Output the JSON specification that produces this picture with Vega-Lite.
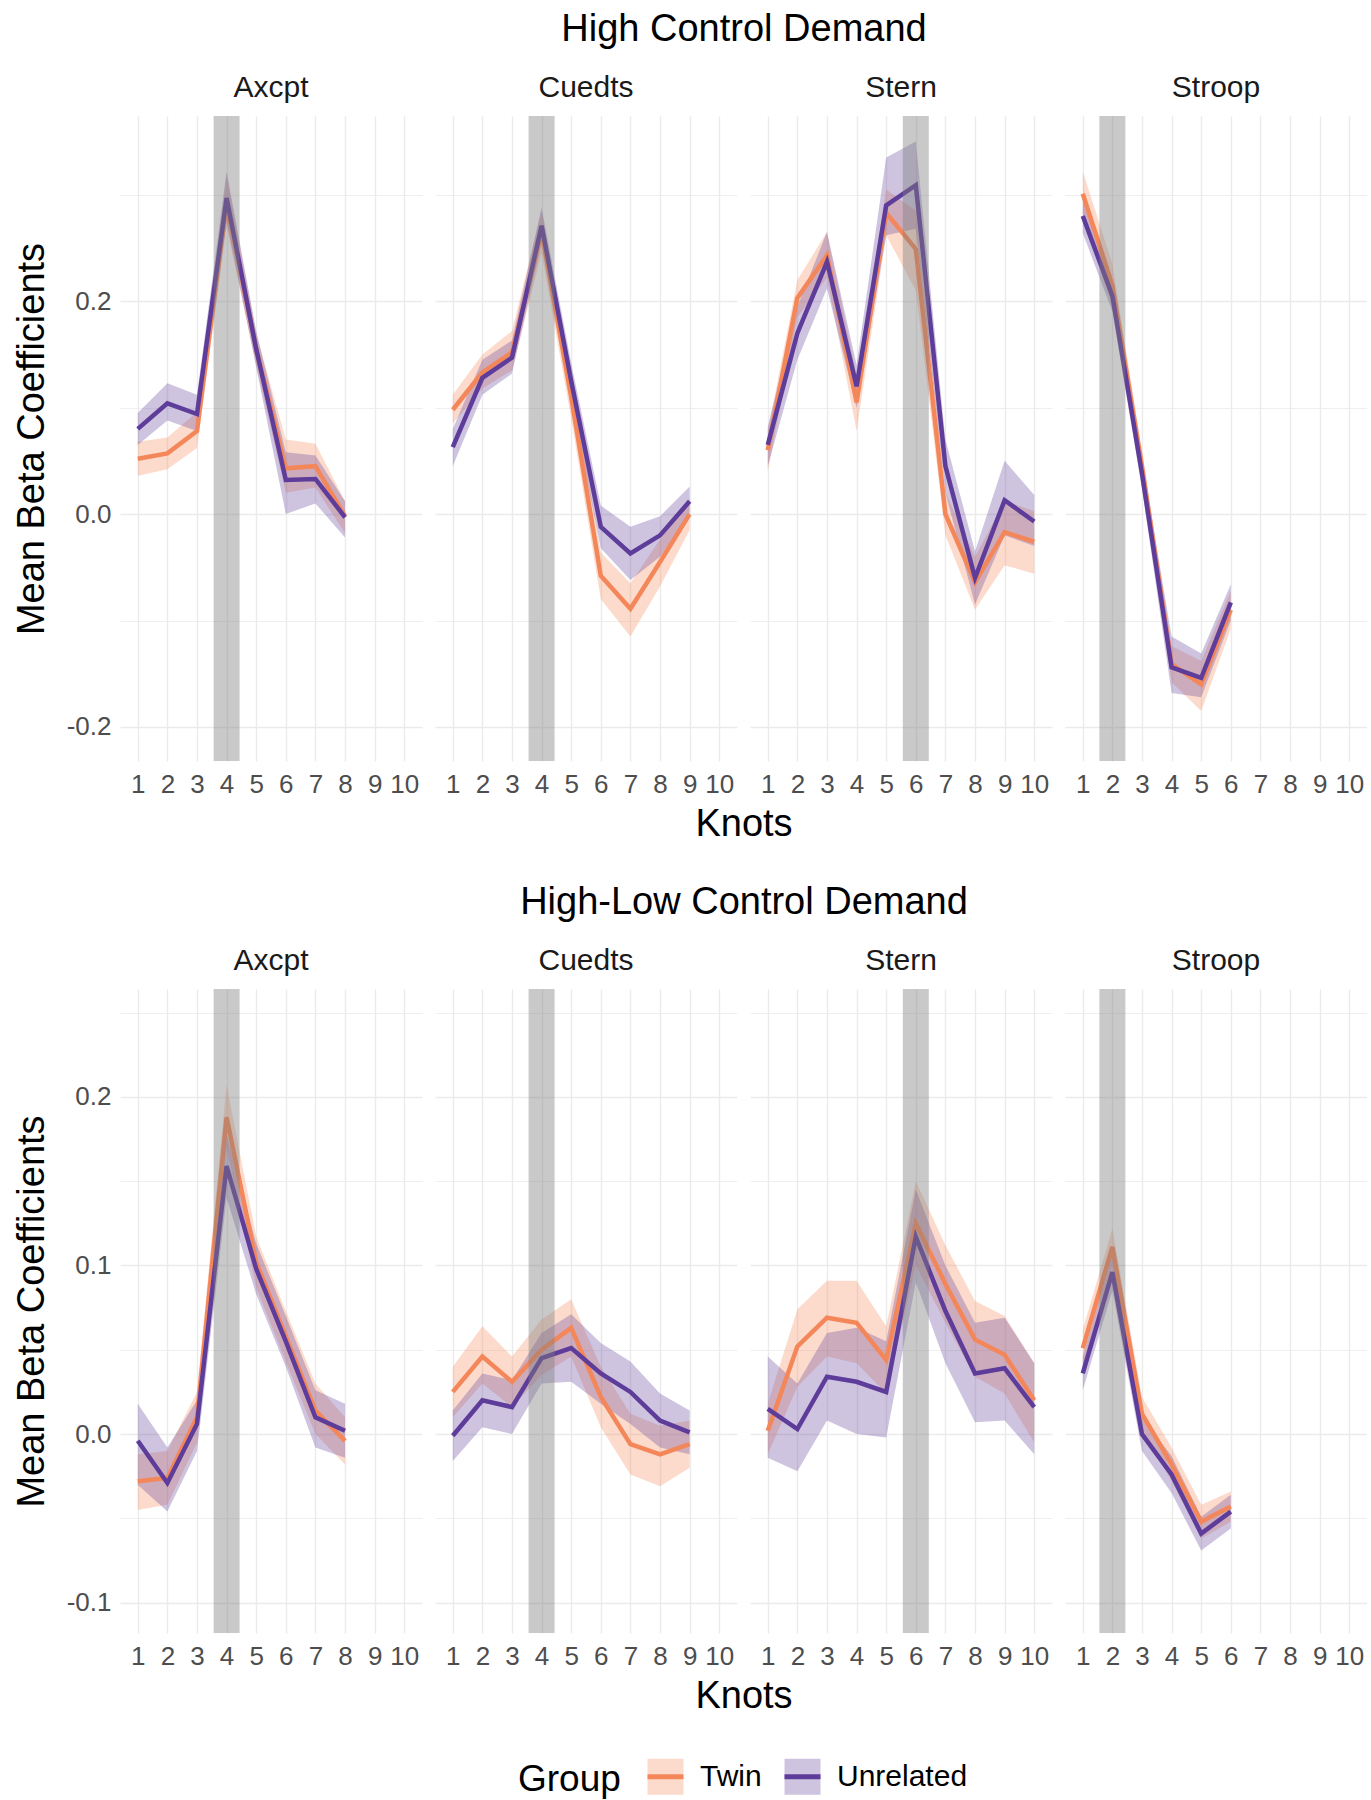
{
  "$schema": "https://vega.github.io/schema/vega-lite/v6.json",
  "autosize": {"type": "pad"},
  "padding": {"left": 13, "top": 11, "right": 0, "bottom": 0},
  "background": "white",
  "config": {
    "font": "Liberation Sans",
    "view": {"stroke": null},
    "axis": {"domain": false, "ticks": false, "labelFontSize": 26, "labelColor": "#4d4d4d", "titleFontSize": 38, "titleFontWeight": "normal", "titleColor": "#000000", "gridColor": "#ebebeb"},
    "header": {"labelFontSize": 30, "labelColor": "#1a1a1a", "titleFontSize": 38, "titleFontWeight": "normal", "titleColor": "#000000"},
    "legend": {"orient": "none", "legendX": 398, "legendY": 1640, "direction": "horizontal", "titleOrient": "left", "titleFontSize": 37, "titleFontWeight": "normal", "titleColor": "#000000", "labelFontSize": 30, "labelColor": "#000000", "titlePadding": 24, "labelOffset": 14, "columnPadding": 12, "symbolType": "M-1,0H1V1H-1V-1H1V0Z", "symbolSize": 1296, "symbolStrokeWidth": 5, "symbolDash": [36, 2000]},
    "concat": {"spacing": 40}
  },
  "datasets": {
    "rows": [
      {"section": "High Control Demand", "task": "Axcpt", "group": "Twin", "knot": 1, "mean": 0.052, "lo": 0.036, "hi": 0.068},
      {"section": "High Control Demand", "task": "Axcpt", "group": "Twin", "knot": 2, "mean": 0.057, "lo": 0.042, "hi": 0.072},
      {"section": "High Control Demand", "task": "Axcpt", "group": "Twin", "knot": 3, "mean": 0.078, "lo": 0.062, "hi": 0.096},
      {"section": "High Control Demand", "task": "Axcpt", "group": "Twin", "knot": 4, "mean": 0.292, "lo": 0.27, "hi": 0.318},
      {"section": "High Control Demand", "task": "Axcpt", "group": "Twin", "knot": 5, "mean": 0.155, "lo": 0.14, "hi": 0.17},
      {"section": "High Control Demand", "task": "Axcpt", "group": "Twin", "knot": 6, "mean": 0.043, "lo": 0.02, "hi": 0.07},
      {"section": "High Control Demand", "task": "Axcpt", "group": "Twin", "knot": 7, "mean": 0.045, "lo": 0.025, "hi": 0.066},
      {"section": "High Control Demand", "task": "Axcpt", "group": "Twin", "knot": 8, "mean": -0.002, "lo": -0.018, "hi": 0.012},
      {"section": "High Control Demand", "task": "Axcpt", "group": "Unrelated", "knot": 1, "mean": 0.08, "lo": 0.065, "hi": 0.095},
      {"section": "High Control Demand", "task": "Axcpt", "group": "Unrelated", "knot": 2, "mean": 0.104, "lo": 0.088, "hi": 0.123},
      {"section": "High Control Demand", "task": "Axcpt", "group": "Unrelated", "knot": 3, "mean": 0.094, "lo": 0.078, "hi": 0.112},
      {"section": "High Control Demand", "task": "Axcpt", "group": "Unrelated", "knot": 4, "mean": 0.297, "lo": 0.275, "hi": 0.322},
      {"section": "High Control Demand", "task": "Axcpt", "group": "Unrelated", "knot": 5, "mean": 0.155, "lo": 0.138, "hi": 0.172},
      {"section": "High Control Demand", "task": "Axcpt", "group": "Unrelated", "knot": 6, "mean": 0.032, "lo": 0.0, "hi": 0.058},
      {"section": "High Control Demand", "task": "Axcpt", "group": "Unrelated", "knot": 7, "mean": 0.033, "lo": 0.01, "hi": 0.055},
      {"section": "High Control Demand", "task": "Axcpt", "group": "Unrelated", "knot": 8, "mean": -0.003, "lo": -0.022, "hi": 0.012},

      {"section": "High Control Demand", "task": "Cuedts", "group": "Twin", "knot": 1, "mean": 0.098, "lo": 0.085, "hi": 0.112},
      {"section": "High Control Demand", "task": "Cuedts", "group": "Twin", "knot": 2, "mean": 0.133, "lo": 0.118, "hi": 0.15},
      {"section": "High Control Demand", "task": "Cuedts", "group": "Twin", "knot": 3, "mean": 0.152, "lo": 0.135, "hi": 0.172},
      {"section": "High Control Demand", "task": "Cuedts", "group": "Twin", "knot": 4, "mean": 0.265, "lo": 0.245, "hi": 0.285},
      {"section": "High Control Demand", "task": "Cuedts", "group": "Twin", "knot": 5, "mean": 0.11, "lo": 0.09, "hi": 0.13},
      {"section": "High Control Demand", "task": "Cuedts", "group": "Twin", "knot": 6, "mean": -0.058, "lo": -0.08, "hi": -0.036},
      {"section": "High Control Demand", "task": "Cuedts", "group": "Twin", "knot": 7, "mean": -0.089, "lo": -0.115, "hi": -0.065},
      {"section": "High Control Demand", "task": "Cuedts", "group": "Twin", "knot": 8, "mean": -0.045, "lo": -0.068, "hi": -0.024},
      {"section": "High Control Demand", "task": "Cuedts", "group": "Twin", "knot": 9, "mean": 0.0, "lo": -0.015, "hi": 0.015},
      {"section": "High Control Demand", "task": "Cuedts", "group": "Unrelated", "knot": 1, "mean": 0.063, "lo": 0.045, "hi": 0.08},
      {"section": "High Control Demand", "task": "Cuedts", "group": "Unrelated", "knot": 2, "mean": 0.128, "lo": 0.112, "hi": 0.145},
      {"section": "High Control Demand", "task": "Cuedts", "group": "Unrelated", "knot": 3, "mean": 0.147, "lo": 0.132, "hi": 0.163},
      {"section": "High Control Demand", "task": "Cuedts", "group": "Unrelated", "knot": 4, "mean": 0.271, "lo": 0.255, "hi": 0.288},
      {"section": "High Control Demand", "task": "Cuedts", "group": "Unrelated", "knot": 5, "mean": 0.125, "lo": 0.105, "hi": 0.142},
      {"section": "High Control Demand", "task": "Cuedts", "group": "Unrelated", "knot": 6, "mean": -0.012, "lo": -0.032, "hi": 0.008},
      {"section": "High Control Demand", "task": "Cuedts", "group": "Unrelated", "knot": 7, "mean": -0.037, "lo": -0.062, "hi": -0.012},
      {"section": "High Control Demand", "task": "Cuedts", "group": "Unrelated", "knot": 8, "mean": -0.02, "lo": -0.04, "hi": -0.002},
      {"section": "High Control Demand", "task": "Cuedts", "group": "Unrelated", "knot": 9, "mean": 0.012, "lo": -0.002, "hi": 0.026},

      {"section": "High Control Demand", "task": "Stern", "group": "Twin", "knot": 1, "mean": 0.06, "lo": 0.04, "hi": 0.078},
      {"section": "High Control Demand", "task": "Stern", "group": "Twin", "knot": 2, "mean": 0.203, "lo": 0.185, "hi": 0.22},
      {"section": "High Control Demand", "task": "Stern", "group": "Twin", "knot": 3, "mean": 0.243, "lo": 0.222, "hi": 0.265},
      {"section": "High Control Demand", "task": "Stern", "group": "Twin", "knot": 4, "mean": 0.105, "lo": 0.078, "hi": 0.13},
      {"section": "High Control Demand", "task": "Stern", "group": "Twin", "knot": 5, "mean": 0.283, "lo": 0.262, "hi": 0.305},
      {"section": "High Control Demand", "task": "Stern", "group": "Twin", "knot": 6, "mean": 0.249, "lo": 0.21, "hi": 0.285},
      {"section": "High Control Demand", "task": "Stern", "group": "Twin", "knot": 7, "mean": 0.0, "lo": -0.02, "hi": 0.02},
      {"section": "High Control Demand", "task": "Stern", "group": "Twin", "knot": 8, "mean": -0.064, "lo": -0.09, "hi": -0.04},
      {"section": "High Control Demand", "task": "Stern", "group": "Twin", "knot": 9, "mean": -0.017, "lo": -0.048, "hi": 0.012},
      {"section": "High Control Demand", "task": "Stern", "group": "Twin", "knot": 10, "mean": -0.026, "lo": -0.056, "hi": 0.003},
      {"section": "High Control Demand", "task": "Stern", "group": "Unrelated", "knot": 1, "mean": 0.065, "lo": 0.045, "hi": 0.082},
      {"section": "High Control Demand", "task": "Stern", "group": "Unrelated", "knot": 2, "mean": 0.17, "lo": 0.145, "hi": 0.195},
      {"section": "High Control Demand", "task": "Stern", "group": "Unrelated", "knot": 3, "mean": 0.237, "lo": 0.212, "hi": 0.265},
      {"section": "High Control Demand", "task": "Stern", "group": "Unrelated", "knot": 4, "mean": 0.12, "lo": 0.1, "hi": 0.14},
      {"section": "High Control Demand", "task": "Stern", "group": "Unrelated", "knot": 5, "mean": 0.29, "lo": 0.262, "hi": 0.335},
      {"section": "High Control Demand", "task": "Stern", "group": "Unrelated", "knot": 6, "mean": 0.309, "lo": 0.268, "hi": 0.35},
      {"section": "High Control Demand", "task": "Stern", "group": "Unrelated", "knot": 7, "mean": 0.045, "lo": 0.02, "hi": 0.07},
      {"section": "High Control Demand", "task": "Stern", "group": "Unrelated", "knot": 8, "mean": -0.06, "lo": -0.085, "hi": -0.035},
      {"section": "High Control Demand", "task": "Stern", "group": "Unrelated", "knot": 9, "mean": 0.013, "lo": -0.02, "hi": 0.05},
      {"section": "High Control Demand", "task": "Stern", "group": "Unrelated", "knot": 10, "mean": -0.007, "lo": -0.03, "hi": 0.018},

      {"section": "High Control Demand", "task": "Stroop", "group": "Twin", "knot": 1, "mean": 0.301, "lo": 0.28, "hi": 0.322},
      {"section": "High Control Demand", "task": "Stroop", "group": "Twin", "knot": 2, "mean": 0.215, "lo": 0.195, "hi": 0.235},
      {"section": "High Control Demand", "task": "Stroop", "group": "Twin", "knot": 3, "mean": 0.045, "lo": 0.03, "hi": 0.06},
      {"section": "High Control Demand", "task": "Stroop", "group": "Twin", "knot": 4, "mean": -0.141, "lo": -0.158, "hi": -0.124},
      {"section": "High Control Demand", "task": "Stroop", "group": "Twin", "knot": 5, "mean": -0.16, "lo": -0.185, "hi": -0.138},
      {"section": "High Control Demand", "task": "Stroop", "group": "Twin", "knot": 6, "mean": -0.09, "lo": -0.108, "hi": -0.072},
      {"section": "High Control Demand", "task": "Stroop", "group": "Unrelated", "knot": 1, "mean": 0.28, "lo": 0.264, "hi": 0.296},
      {"section": "High Control Demand", "task": "Stroop", "group": "Unrelated", "knot": 2, "mean": 0.205, "lo": 0.19, "hi": 0.22},
      {"section": "High Control Demand", "task": "Stroop", "group": "Unrelated", "knot": 3, "mean": 0.038, "lo": 0.024, "hi": 0.052},
      {"section": "High Control Demand", "task": "Stroop", "group": "Unrelated", "knot": 4, "mean": -0.144, "lo": -0.168, "hi": -0.115},
      {"section": "High Control Demand", "task": "Stroop", "group": "Unrelated", "knot": 5, "mean": -0.154, "lo": -0.172, "hi": -0.131},
      {"section": "High Control Demand", "task": "Stroop", "group": "Unrelated", "knot": 6, "mean": -0.083, "lo": -0.1, "hi": -0.066},

      {"section": "High-Low Control Demand", "task": "Axcpt", "group": "Twin", "knot": 1, "mean": -0.028, "lo": -0.045, "hi": -0.012},
      {"section": "High-Low Control Demand", "task": "Axcpt", "group": "Twin", "knot": 2, "mean": -0.026, "lo": -0.042, "hi": -0.01},
      {"section": "High-Low Control Demand", "task": "Axcpt", "group": "Twin", "knot": 3, "mean": 0.01, "lo": -0.005, "hi": 0.025},
      {"section": "High-Low Control Demand", "task": "Axcpt", "group": "Twin", "knot": 4, "mean": 0.188, "lo": 0.17, "hi": 0.207},
      {"section": "High-Low Control Demand", "task": "Axcpt", "group": "Twin", "knot": 5, "mean": 0.102, "lo": 0.087, "hi": 0.117},
      {"section": "High-Low Control Demand", "task": "Axcpt", "group": "Twin", "knot": 6, "mean": 0.058, "lo": 0.043, "hi": 0.073},
      {"section": "High-Low Control Demand", "task": "Axcpt", "group": "Twin", "knot": 7, "mean": 0.014, "lo": 0.0, "hi": 0.03},
      {"section": "High-Low Control Demand", "task": "Axcpt", "group": "Twin", "knot": 8, "mean": -0.004, "lo": -0.018, "hi": 0.01},
      {"section": "High-Low Control Demand", "task": "Axcpt", "group": "Unrelated", "knot": 1, "mean": -0.004, "lo": -0.03, "hi": 0.018},
      {"section": "High-Low Control Demand", "task": "Axcpt", "group": "Unrelated", "knot": 2, "mean": -0.029, "lo": -0.046, "hi": -0.008},
      {"section": "High-Low Control Demand", "task": "Axcpt", "group": "Unrelated", "knot": 3, "mean": 0.006, "lo": -0.01, "hi": 0.02},
      {"section": "High-Low Control Demand", "task": "Axcpt", "group": "Unrelated", "knot": 4, "mean": 0.159, "lo": 0.14, "hi": 0.178},
      {"section": "High-Low Control Demand", "task": "Axcpt", "group": "Unrelated", "knot": 5, "mean": 0.098, "lo": 0.083, "hi": 0.113},
      {"section": "High-Low Control Demand", "task": "Axcpt", "group": "Unrelated", "knot": 6, "mean": 0.055, "lo": 0.04, "hi": 0.07},
      {"section": "High-Low Control Demand", "task": "Axcpt", "group": "Unrelated", "knot": 7, "mean": 0.01, "lo": -0.008, "hi": 0.026},
      {"section": "High-Low Control Demand", "task": "Axcpt", "group": "Unrelated", "knot": 8, "mean": 0.002, "lo": -0.014, "hi": 0.018},

      {"section": "High-Low Control Demand", "task": "Cuedts", "group": "Twin", "knot": 1, "mean": 0.025, "lo": 0.01, "hi": 0.04},
      {"section": "High-Low Control Demand", "task": "Cuedts", "group": "Twin", "knot": 2, "mean": 0.046, "lo": 0.03, "hi": 0.064},
      {"section": "High-Low Control Demand", "task": "Cuedts", "group": "Twin", "knot": 3, "mean": 0.031, "lo": 0.016, "hi": 0.046},
      {"section": "High-Low Control Demand", "task": "Cuedts", "group": "Twin", "knot": 4, "mean": 0.05, "lo": 0.035, "hi": 0.068},
      {"section": "High-Low Control Demand", "task": "Cuedts", "group": "Twin", "knot": 5, "mean": 0.063, "lo": 0.046, "hi": 0.08},
      {"section": "High-Low Control Demand", "task": "Cuedts", "group": "Twin", "knot": 6, "mean": 0.022, "lo": 0.004, "hi": 0.04},
      {"section": "High-Low Control Demand", "task": "Cuedts", "group": "Twin", "knot": 7, "mean": -0.006, "lo": -0.024, "hi": 0.012},
      {"section": "High-Low Control Demand", "task": "Cuedts", "group": "Twin", "knot": 8, "mean": -0.012, "lo": -0.031, "hi": 0.005},
      {"section": "High-Low Control Demand", "task": "Cuedts", "group": "Twin", "knot": 9, "mean": -0.006, "lo": -0.02, "hi": 0.008},
      {"section": "High-Low Control Demand", "task": "Cuedts", "group": "Unrelated", "knot": 1, "mean": -0.001, "lo": -0.016, "hi": 0.014},
      {"section": "High-Low Control Demand", "task": "Cuedts", "group": "Unrelated", "knot": 2, "mean": 0.02, "lo": 0.004, "hi": 0.036},
      {"section": "High-Low Control Demand", "task": "Cuedts", "group": "Unrelated", "knot": 3, "mean": 0.016, "lo": 0.0, "hi": 0.032},
      {"section": "High-Low Control Demand", "task": "Cuedts", "group": "Unrelated", "knot": 4, "mean": 0.045, "lo": 0.03, "hi": 0.06},
      {"section": "High-Low Control Demand", "task": "Cuedts", "group": "Unrelated", "knot": 5, "mean": 0.051, "lo": 0.031, "hi": 0.071},
      {"section": "High-Low Control Demand", "task": "Cuedts", "group": "Unrelated", "knot": 6, "mean": 0.036, "lo": 0.018, "hi": 0.054},
      {"section": "High-Low Control Demand", "task": "Cuedts", "group": "Unrelated", "knot": 7, "mean": 0.025, "lo": 0.006, "hi": 0.043},
      {"section": "High-Low Control Demand", "task": "Cuedts", "group": "Unrelated", "knot": 8, "mean": 0.008, "lo": -0.008, "hi": 0.024},
      {"section": "High-Low Control Demand", "task": "Cuedts", "group": "Unrelated", "knot": 9, "mean": 0.001, "lo": -0.012, "hi": 0.014},

      {"section": "High-Low Control Demand", "task": "Stern", "group": "Twin", "knot": 1, "mean": 0.002, "lo": -0.012, "hi": 0.018},
      {"section": "High-Low Control Demand", "task": "Stern", "group": "Twin", "knot": 2, "mean": 0.052, "lo": 0.028, "hi": 0.074},
      {"section": "High-Low Control Demand", "task": "Stern", "group": "Twin", "knot": 3, "mean": 0.069, "lo": 0.046, "hi": 0.091},
      {"section": "High-Low Control Demand", "task": "Stern", "group": "Twin", "knot": 4, "mean": 0.066, "lo": 0.042, "hi": 0.091},
      {"section": "High-Low Control Demand", "task": "Stern", "group": "Twin", "knot": 5, "mean": 0.044, "lo": 0.024, "hi": 0.064},
      {"section": "High-Low Control Demand", "task": "Stern", "group": "Twin", "knot": 6, "mean": 0.125, "lo": 0.1, "hi": 0.15},
      {"section": "High-Low Control Demand", "task": "Stern", "group": "Twin", "knot": 7, "mean": 0.089, "lo": 0.066, "hi": 0.112},
      {"section": "High-Low Control Demand", "task": "Stern", "group": "Twin", "knot": 8, "mean": 0.056, "lo": 0.034, "hi": 0.079},
      {"section": "High-Low Control Demand", "task": "Stern", "group": "Twin", "knot": 9, "mean": 0.047, "lo": 0.024, "hi": 0.07},
      {"section": "High-Low Control Demand", "task": "Stern", "group": "Twin", "knot": 10, "mean": 0.02, "lo": -0.005, "hi": 0.042},
      {"section": "High-Low Control Demand", "task": "Stern", "group": "Unrelated", "knot": 1, "mean": 0.015, "lo": -0.014, "hi": 0.046},
      {"section": "High-Low Control Demand", "task": "Stern", "group": "Unrelated", "knot": 2, "mean": 0.003, "lo": -0.022, "hi": 0.03},
      {"section": "High-Low Control Demand", "task": "Stern", "group": "Unrelated", "knot": 3, "mean": 0.034, "lo": 0.008, "hi": 0.06},
      {"section": "High-Low Control Demand", "task": "Stern", "group": "Unrelated", "knot": 4, "mean": 0.031, "lo": 0.0, "hi": 0.063},
      {"section": "High-Low Control Demand", "task": "Stern", "group": "Unrelated", "knot": 5, "mean": 0.025, "lo": -0.002, "hi": 0.055},
      {"section": "High-Low Control Demand", "task": "Stern", "group": "Unrelated", "knot": 6, "mean": 0.117, "lo": 0.09, "hi": 0.145},
      {"section": "High-Low Control Demand", "task": "Stern", "group": "Unrelated", "knot": 7, "mean": 0.073, "lo": 0.042, "hi": 0.1},
      {"section": "High-Low Control Demand", "task": "Stern", "group": "Unrelated", "knot": 8, "mean": 0.036, "lo": 0.007, "hi": 0.066},
      {"section": "High-Low Control Demand", "task": "Stern", "group": "Unrelated", "knot": 9, "mean": 0.039, "lo": 0.008, "hi": 0.069},
      {"section": "High-Low Control Demand", "task": "Stern", "group": "Unrelated", "knot": 10, "mean": 0.016, "lo": -0.012, "hi": 0.042},

      {"section": "High-Low Control Demand", "task": "Stroop", "group": "Twin", "knot": 1, "mean": 0.051, "lo": 0.04, "hi": 0.062},
      {"section": "High-Low Control Demand", "task": "Stroop", "group": "Twin", "knot": 2, "mean": 0.111, "lo": 0.1, "hi": 0.122},
      {"section": "High-Low Control Demand", "task": "Stroop", "group": "Twin", "knot": 3, "mean": 0.012, "lo": 0.002, "hi": 0.022},
      {"section": "High-Low Control Demand", "task": "Stroop", "group": "Twin", "knot": 4, "mean": -0.018, "lo": -0.028, "hi": -0.008},
      {"section": "High-Low Control Demand", "task": "Stroop", "group": "Twin", "knot": 5, "mean": -0.052, "lo": -0.062, "hi": -0.042},
      {"section": "High-Low Control Demand", "task": "Stroop", "group": "Twin", "knot": 6, "mean": -0.043, "lo": -0.052, "hi": -0.034},
      {"section": "High-Low Control Demand", "task": "Stroop", "group": "Unrelated", "knot": 1, "mean": 0.036, "lo": 0.026, "hi": 0.046},
      {"section": "High-Low Control Demand", "task": "Stroop", "group": "Unrelated", "knot": 2, "mean": 0.096, "lo": 0.085, "hi": 0.108},
      {"section": "High-Low Control Demand", "task": "Stroop", "group": "Unrelated", "knot": 3, "mean": 0.0, "lo": -0.01, "hi": 0.01},
      {"section": "High-Low Control Demand", "task": "Stroop", "group": "Unrelated", "knot": 4, "mean": -0.024, "lo": -0.035, "hi": -0.013},
      {"section": "High-Low Control Demand", "task": "Stroop", "group": "Unrelated", "knot": 5, "mean": -0.059, "lo": -0.069, "hi": -0.049},
      {"section": "High-Low Control Demand", "task": "Stroop", "group": "Unrelated", "knot": 6, "mean": -0.046, "lo": -0.056, "hi": -0.036},

      {"section": "High Control Demand", "task": "Axcpt", "band": 4},
      {"section": "High Control Demand", "task": "Cuedts", "band": 4},
      {"section": "High Control Demand", "task": "Stern", "band": 6},
      {"section": "High Control Demand", "task": "Stroop", "band": 2},
      {"section": "High-Low Control Demand", "task": "Axcpt", "band": 4},
      {"section": "High-Low Control Demand", "task": "Cuedts", "band": 4},
      {"section": "High-Low Control Demand", "task": "Stern", "band": 6},
      {"section": "High-Low Control Demand", "task": "Stroop", "band": 2}
    ]
  },
  "resolve": {"scale": {"y": "independent", "x": "independent"}},
  "vconcat": [
    {
      "data": {"name": "rows"},
      "transform": [{"filter": "datum.section == 'High Control Demand'"}],
      "title": {"text": "Knots", "orient": "bottom", "anchor": "middle", "frame": "group", "dx": 624, "fontSize": 38, "fontWeight": "normal", "color": "#000000", "offset": 9},
      "facet": {"column": {"field": "task", "type": "nominal", "title": "High Control Demand", "header": {"titlePadding": 14, "labelPadding": 0}}},
      "spacing": {"column": 13},
      "spec": {
        "width": 302,
        "height": 645,
        "layer": [
          {
            "transform": [{"filter": "isValid(datum.mean)"}],
            "mark": {"type": "area", "fillOpacity": 0.3},
            "encoding": {
              "x": {"field": "knot", "type": "quantitative", "scale": {"domain": [0.4, 10.6], "nice": false, "zero": false}, "axis": {"title": null, "values": [1,2,3,4,5,6,7,8,9,10], "labelPadding": -3, "gridWidth": 1.4}},
              "y": {"field": "lo", "type": "quantitative", "scale": {"domain": [-0.232, 0.374], "nice": false, "zero": false}, "axis": {"title": "Mean Beta Coefficients", "values": [-0.2,-0.1,0,0.1,0.2,0.3], "labelExpr": "abs(round(datum.value*10)) % 2 == 0 ? replace(format(datum.value, '.1f'), '\u2212', '-') : ''", "gridWidth": {"condition": {"test": "abs(round(datum.value*10)) % 2 == 1", "value": 0.8}, "value": 1.6}, "labelPadding": 9, "titlePadding": 15}},
              "y2": {"field": "hi"},
              "fill": {"field": "group", "type": "nominal", "scale": {"domain": ["Twin", "Unrelated"], "range": ["#F4875A", "#5E3C99"]}, "legend": {"title": "Group", "symbolType": "M-1,0H1V1H-1V-1H1V0Z", "encode": {"symbols": {"update": {"fillOpacity": {"value": 0.3}, "strokeOpacity": {"value": 1}}}}}}
            }
          },
          {
            "transform": [{"filter": "isValid(datum.mean)"}],
            "mark": {"type": "line", "strokeWidth": 4.5},
            "encoding": {
              "x": {"field": "knot", "type": "quantitative", "scale": {"domain": [0.4, 10.6], "nice": false, "zero": false}, "axis": {"title": null, "values": [1,2,3,4,5,6,7,8,9,10], "labelPadding": -3, "gridWidth": 1.4}},
              "y": {"field": "mean", "type": "quantitative", "axis": {"title": "Mean Beta Coefficients", "values": [-0.2,-0.1,0,0.1,0.2,0.3], "labelExpr": "abs(round(datum.value*10)) % 2 == 0 ? replace(format(datum.value, '.1f'), '\u2212', '-') : ''", "gridWidth": {"condition": {"test": "abs(round(datum.value*10)) % 2 == 1", "value": 0.8}, "value": 1.6}, "labelPadding": 9, "titlePadding": 15}},
              "stroke": {"field": "group", "type": "nominal", "scale": {"domain": ["Twin", "Unrelated"], "range": ["#F4875A", "#5E3C99"]}, "legend": {"title": "Group", "symbolType": "M-1,0H1V1H-1V-1H1V0Z", "encode": {"symbols": {"update": {"fillOpacity": {"value": 0.3}, "strokeOpacity": {"value": 1}}}}}}
            }
          },
          {
            "transform": [{"filter": "isValid(datum.band)"}],
            "mark": {"type": "rule", "color": "#7f7f7f", "opacity": 0.42, "strokeWidth": 26},
            "encoding": {
              "x": {"field": "band", "type": "quantitative", "axis": {"title": null, "values": [1,2,3,4,5,6,7,8,9,10], "labelPadding": -3, "gridWidth": 1.4}}
            }
          }
        ]
      }
    },
    {
      "data": {"name": "rows"},
      "transform": [{"filter": "datum.section == 'High-Low Control Demand'"}],
      "title": {"text": "Knots", "orient": "bottom", "anchor": "middle", "frame": "group", "dx": 624, "fontSize": 38, "fontWeight": "normal", "color": "#000000", "offset": 9},
      "facet": {"column": {"field": "task", "type": "nominal", "title": "High-Low Control Demand", "header": {"titlePadding": 14, "labelPadding": 0}}},
      "spacing": {"column": 13},
      "spec": {
        "width": 302,
        "height": 644,
        "layer": [
          {
            "transform": [{"filter": "isValid(datum.mean)"}],
            "mark": {"type": "area", "fillOpacity": 0.3},
            "encoding": {
              "x": {"field": "knot", "type": "quantitative", "scale": {"domain": [0.4, 10.6], "nice": false, "zero": false}, "axis": {"title": null, "values": [1,2,3,4,5,6,7,8,9,10], "labelPadding": -3, "gridWidth": 1.4}},
              "y": {"field": "lo", "type": "quantitative", "scale": {"domain": [-0.118, 0.264], "nice": false, "zero": false}, "axis": {"title": "Mean Beta Coefficients", "values": [-0.1,-0.05,0,0.05,0.1,0.15,0.2,0.25], "labelExpr": "abs(round(datum.value*20)) % 2 == 0 ? replace(format(datum.value, '.1f'), '\u2212', '-') : ''", "gridWidth": {"condition": {"test": "abs(round(datum.value*20)) % 2 == 1", "value": 0.8}, "value": 1.6}, "labelPadding": 9, "titlePadding": 15}},
              "y2": {"field": "hi"},
              "fill": {"field": "group", "type": "nominal", "scale": {"domain": ["Twin", "Unrelated"], "range": ["#F4875A", "#5E3C99"]}, "legend": {"title": "Group", "symbolType": "M-1,0H1V1H-1V-1H1V0Z", "encode": {"symbols": {"update": {"fillOpacity": {"value": 0.3}, "strokeOpacity": {"value": 1}}}}}}
            }
          },
          {
            "transform": [{"filter": "isValid(datum.mean)"}],
            "mark": {"type": "line", "strokeWidth": 4.5},
            "encoding": {
              "x": {"field": "knot", "type": "quantitative", "scale": {"domain": [0.4, 10.6], "nice": false, "zero": false}, "axis": {"title": null, "values": [1,2,3,4,5,6,7,8,9,10], "labelPadding": -3, "gridWidth": 1.4}},
              "y": {"field": "mean", "type": "quantitative", "axis": {"title": "Mean Beta Coefficients", "values": [-0.1,-0.05,0,0.05,0.1,0.15,0.2,0.25], "labelExpr": "abs(round(datum.value*20)) % 2 == 0 ? replace(format(datum.value, '.1f'), '\u2212', '-') : ''", "gridWidth": {"condition": {"test": "abs(round(datum.value*20)) % 2 == 1", "value": 0.8}, "value": 1.6}, "labelPadding": 9, "titlePadding": 15}},
              "stroke": {"field": "group", "type": "nominal", "scale": {"domain": ["Twin", "Unrelated"], "range": ["#F4875A", "#5E3C99"]}, "legend": {"title": "Group", "symbolType": "M-1,0H1V1H-1V-1H1V0Z", "encode": {"symbols": {"update": {"fillOpacity": {"value": 0.3}, "strokeOpacity": {"value": 1}}}}}}
            }
          },
          {
            "transform": [{"filter": "isValid(datum.band)"}],
            "mark": {"type": "rule", "color": "#7f7f7f", "opacity": 0.42, "strokeWidth": 26},
            "encoding": {
              "x": {"field": "band", "type": "quantitative", "axis": {"title": null, "values": [1,2,3,4,5,6,7,8,9,10], "labelPadding": -3, "gridWidth": 1.4}}
            }
          }
        ]
      }
    }
  ]
}
